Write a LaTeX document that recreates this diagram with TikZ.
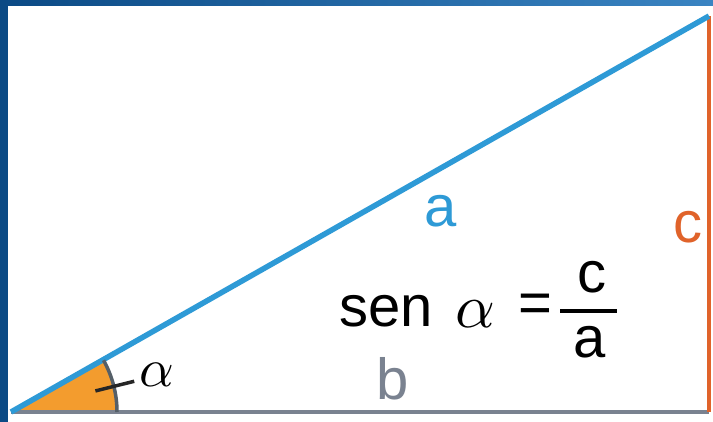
\documentclass[tikz,border=0pt]{standalone}
\usepackage{fontspec}
\usetikzlibrary{calc}
\setmainfont{Liberation Sans}
\definecolor{frameblue}{HTML}{0B4A85}
\definecolor{framelight}{HTML}{3A84C2}
\definecolor{hypblue}{HTML}{2E9AD6}
\definecolor{oppor}{HTML}{E0632A}
\definecolor{angfill}{HTML}{F39C2E}
\definecolor{basegray}{HTML}{7A8290}
\definecolor{arcgray}{HTML}{555F68}
\tikzset{
  lbl/.style={inner sep=0pt, anchor=base, font=\fontsize{58}{58}\selectfont},
  grk/.style={inner sep=0pt, anchor=base, scale=#1},
}
\begin{document}
\begin{tikzpicture}[x=1pt,y=1pt]
\useasboundingbox (0,0) rectangle (713,422);
\fill[white] (0,0) rectangle (713,422);
% frame
\fill[frameblue] (0,0) rectangle (7.5,422);
\shade[left color=frameblue, right color=framelight] (0,416) rectangle (713,422);
% triangle vertices
\coordinate (A) at (11,10);
\coordinate (B) at (709,10);
\coordinate (C) at (709,406);
% angle sector
\fill[angfill] (A) -- ++(106,0) arc[start angle=0, end angle=29.56, radius=106] -- cycle;
% sides
\draw[basegray, line width=4.5pt] (A) -- (B);
\draw[oppor, line width=4pt] (B) -- (C);
\draw[hypblue, line width=5.5pt] (A) -- (C);
% angle arc and tick
\draw[arcgray, line width=3.5pt] ($(A)+(106,0)$) arc[start angle=0, end angle=29.2, radius=106];
\coordinate (T1) at ($(A)+(14:87)$);
\coordinate (T2) at ($(A)+(14:127)$);
\draw[black!85, line width=3.5pt] (T1) -- (T2);
% labels
\node[grk=5.4] (alpha) at (157,35) {\(\alpha\)};
\node[lbl, text=hypblue] (la) at (441,195) {a};
\node[lbl, text=oppor] (lc) at (688,179) {c};
\node[lbl, text=basegray] (lb) at (393,22) {b};
% formula
\node[lbl, anchor=base west] (sen) at (339,95) {sen};
\node[grk=6.2] (falpha) at (475,94) {\(\alpha\)};
\node[lbl] (eq) at (535,99) {=};
\coordinate (F1) at (560,111);
\coordinate (F2) at (617,111);
\draw[black, line width=3.5pt] (F1) -- (F2);
\node[lbl] (num) at (592,129) {c};
\node[lbl] (den) at (590,64) {a};
\end{tikzpicture}
\end{document}
